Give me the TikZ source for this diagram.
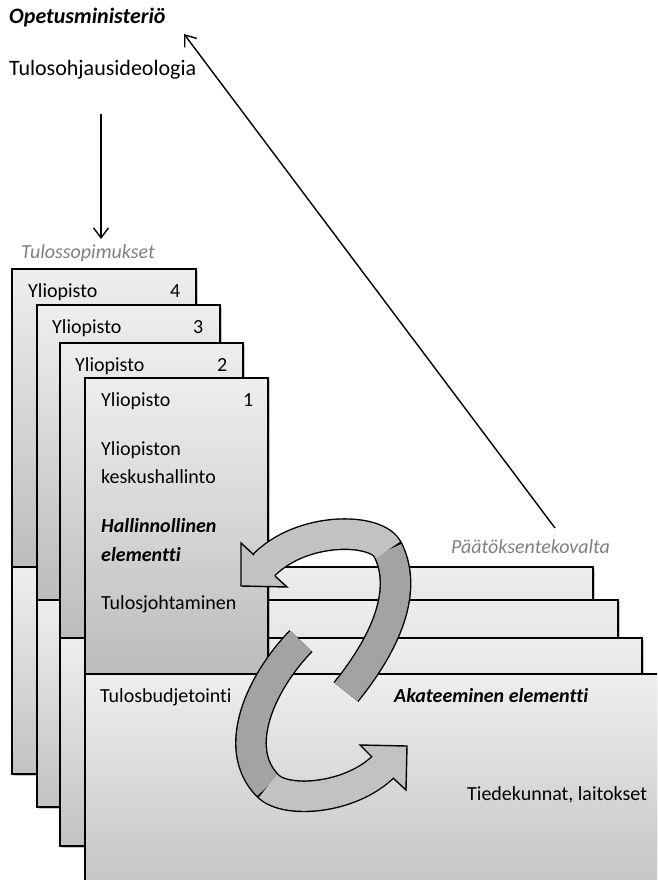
\documentclass[tikz,border=0pt]{standalone}
\usepackage{fontspec}
\setmainfont{Carlito}[Ligatures=NoCommon]
\usetikzlibrary{arrows.meta,shadows}
\definecolor{upTop}{HTML}{EEEEEE}
\definecolor{upBot}{HTML}{BCBCBC}
\definecolor{loTop}{HTML}{EEEEEE}
\definecolor{loBot}{HTML}{C2C2C2}
\definecolor{labelGray}{HTML}{7F7F7F}
\definecolor{arrowLight}{HTML}{C2C2C2}
\definecolor{arrowDark}{HTML}{A3A3A3}
\begin{document}
\begin{tikzpicture}[x=1pt,y=-1pt,
  boxline/.style={draw=black,line width=1.4pt},
  boxshadow/.style={drop shadow={shadow xshift=1.5pt,shadow yshift=-1.5pt,opacity=0.22,fill=black}},
  upperbox/.style={boxline,boxshadow,top color=upTop,bottom color=upBot},
  lowerbox/.style={boxline,boxshadow,top color=loTop,bottom color=loBot},
  txt/.style={inner sep=0pt,anchor=base west,font=\fontsize{20pt}{24pt}\selectfont},
  toptxt/.style={inner sep=0pt,anchor=base west,font=\fontsize{22pt}{26pt}\selectfont},
  graytxt/.style={txt,text=labelGray,font=\fontsize{20pt}{24pt}\selectfont\itshape},
  emtxt/.style={txt,font=\fontsize{20pt}{24pt}\selectfont\bfseries\itshape},
  linearrow/.style={draw=black,line width=1.4pt,-{Straight Barb[length=10pt,width=15pt,line width=1.4pt]}},
  ribbonout/.style={draw=black,line width=31.8pt,line cap=butt,line join=round},
  ribbonlight/.style={draw=arrowLight,line width=29pt,line cap=butt},
  ribbondark/.style={draw=arrowDark,line width=29pt,line cap=butt},
  headline/.style={draw=black,line width=1.4pt,line join=miter}
]
\useasboundingbox (0,0) rectangle (657,880);
\clip (0,0) rectangle (657,880);

% ---- stacked university layers ----
\path[upperbox] (12,269) rectangle (196,567);
\path[lowerbox] (12,567) rectangle (593,774);
\path[upperbox] (37,305) rectangle (220,600);
\path[lowerbox] (37,600) rectangle (618,807);
\path[upperbox] (60,343) rectangle (243,638);
\path[lowerbox] (60,638) rectangle (642,846);
\path[upperbox] (85,378) rectangle (268,674);
\path[lowerbox] (85,674) rectangle (680,900);

% ---- texts ----
\node[toptxt,font=\fontsize{22pt}{26pt}\selectfont\bfseries\itshape] (om) at (9,24) {Opetusministeriö};
\node[toptxt] (ideo) at (9,76) {Tulosohjausideologia};
\node[graytxt] (sopimus) at (21,258) {Tulossopimukset};
\node[graytxt] (valta) at (451,553) {Päätöksentekovalta};

\node[txt] (y4) at (28,297) {Yliopisto};
\node[txt] (n4) at (170,297) {4};
\node[txt] (y3) at (52,333) {Yliopisto};
\node[txt] (n3) at (193,333) {3};
\node[txt] (y2) at (75,371) {Yliopisto};
\node[txt] (n2) at (217,371) {2};
\node[txt] (y1) at (101,406) {Yliopisto};
\node[txt] (n1) at (243,406) {1};
\node[txt] (kh1) at (101,455) {Yliopiston};
\node[txt] (kh2) at (101,483) {keskushallinto};
\node[emtxt] (he1) at (101,532) {Hallinnollinen};
\node[emtxt] (he2) at (101,561) {elementti};
\node[txt] (tj) at (101,609) {Tulosjohtaminen};
\node[txt] (tb) at (100,702) {Tulosbudjetointi};
\node[emtxt] (ak) at (394,702) {Akateeminen elementti};
\node[txt] (tl) at (467,800) {Tiedekunnat, laitokset};

% ---- straight arrows ----
\coordinate (downA) at (101,114);
\coordinate (downB) at (101,239);
\draw[linearrow] (downA) -- (downB);
\coordinate (upA) at (555,528);
\coordinate (upB) at (184,34);
\draw[linearrow] (upA) -- (upB);

% ---- curved arrow A (towards administration) ----
\coordinate (aT) at (346,692);
\coordinate (aM) at (388,550);
\coordinate (aE) at (262,567);
\draw[ribbonout] (aT) .. controls (380,650) and (410,595) .. (aM)
                      .. controls (377,527) and (300,526) .. (aE);
\draw[ribbondark] (aT) .. controls (380,650) and (410,595) .. (aM);
\draw[ribbonlight] (aM) .. controls (377,527) and (300,526) .. (aE);
\fill[arrowLight] (254,555) -- (241,543) -- (241,586) -- (287,587) -- (275,576) -- cycle;
\draw[headline] (254,555) -- (241,543) -- (241,586) -- (287,587) -- (275,576);

% ---- curved arrow B (towards academic element) ----
\coordinate (bT) at (301,641);
\coordinate (bM) at (268,786);
\coordinate (bE) at (384,766);
\draw[ribbonout] (bT) .. controls (262,681) and (230,748) .. (bM)
                      .. controls (286,804) and (351,799) .. (bE);
\draw[ribbondark] (bT) .. controls (262,681) and (230,748) .. (bM);
\draw[ribbonlight] (bM) .. controls (286,804) and (351,799) .. (bE);
\fill[arrowLight] (372,757) -- (360,745) -- (407,746) -- (406,790) -- (393,778) -- cycle;
\draw[headline] (372,757) -- (360,745) -- (407,746) -- (406,790) -- (393,778);
\end{tikzpicture}
\end{document}
